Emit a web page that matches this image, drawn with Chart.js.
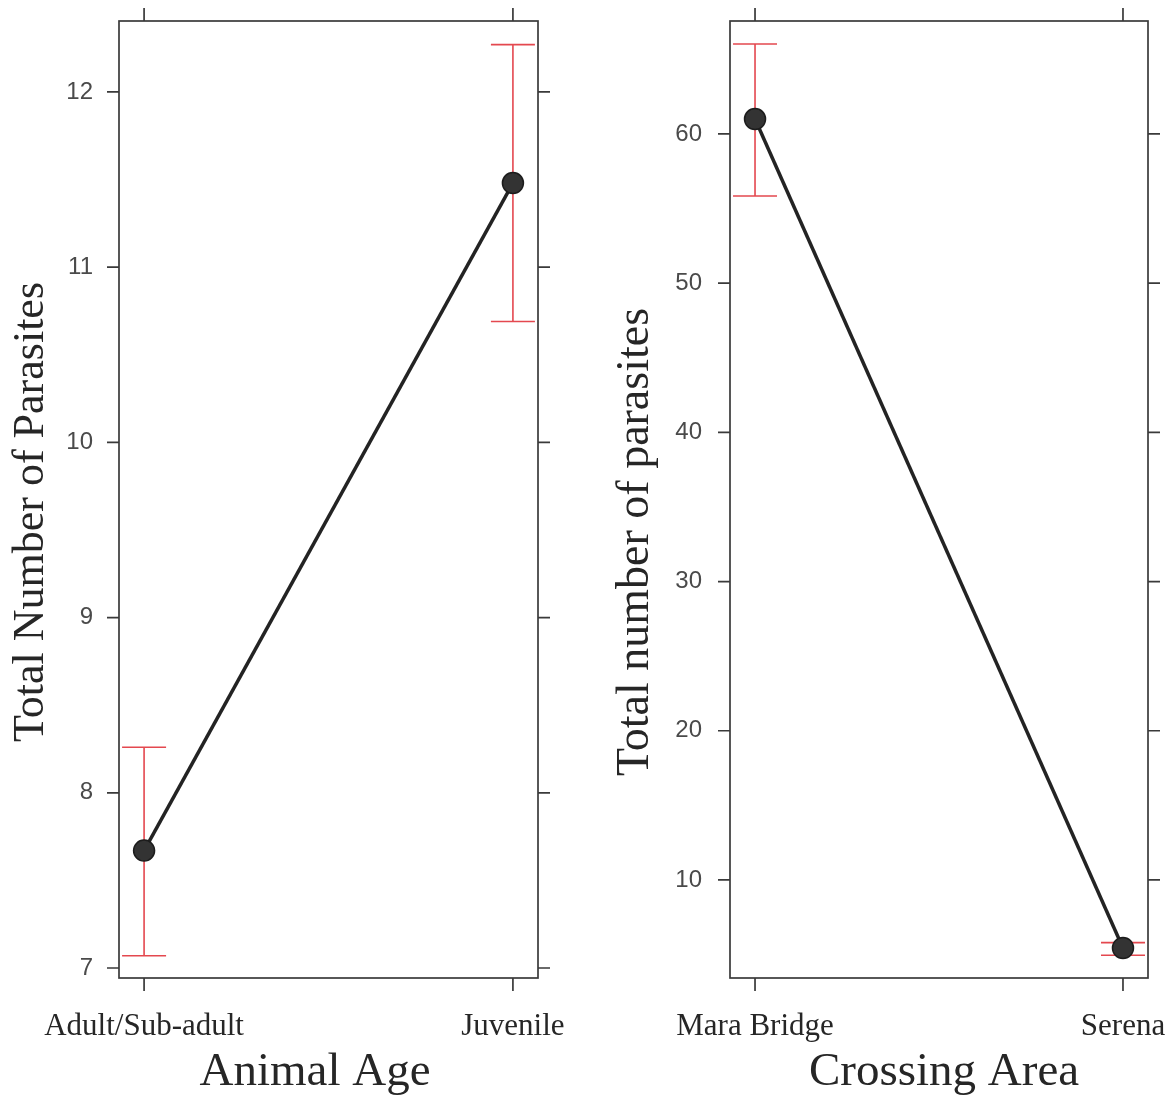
<!DOCTYPE html>
<html>
<head>
<meta charset="utf-8">
<title>Total number of parasites</title>
<script src="https://cdn.jsdelivr.net/npm/chart.js@4.4.1/dist/chart.umd.min.js"></script>
<style>
  body { margin: 0; background: #fff; }
  #left { position: absolute; left: 0; top: 0; }
  #right { position: absolute; left: 600px; top: 0; }
</style>
</head>
<body>
<canvas id="left" width="600" height="1095"></canvas>
<canvas id="right" width="572" height="1095"></canvas>
<script>
// Panel 1: animal age
const ageLabels = ["Adult/Sub-adult", "Juvenile"];
const ageMeans = [7.67, 11.48];
const ageLower = [7.07, 10.69];
const ageUpper = [8.26, 12.27];
const ageTicks = [7, 8, 9, 10, 11, 12];

// Panel 2: crossing area
const areaLabels = ["Mara Bridge", "Serena"];
const areaMeans = [61.0, 5.44];
const areaLower = [55.84, 4.95];
const areaUpper = [66.03, 5.8];
const areaTicks = [10, 20, 30, 40, 50, 60];

// error bars, box with outward ticks and axis titles
const framePlugin = {
    id: "frame",
    beforeDatasetsDraw(chart, args, opts) {
        const ctx = chart.ctx;
        const x = chart.scales.x, y = chart.scales.y;
        ctx.save();
        ctx.strokeStyle = "#e4484f";
        ctx.lineWidth = 1.6;
        opts.lower.forEach((lo, i) => {
            const px = x.getPixelForValue(i + 1);
            const yLo = y.getPixelForValue(lo);
            const yHi = y.getPixelForValue(opts.upper[i]);
            ctx.beginPath();
            ctx.moveTo(px, yLo); ctx.lineTo(px, yHi);
            ctx.moveTo(px - 22, yLo); ctx.lineTo(px + 22, yLo);
            ctx.moveTo(px - 22, yHi); ctx.lineTo(px + 22, yHi);
            ctx.stroke();
        });
        ctx.restore();
    },
    afterDraw(chart, args, opts) {
        const ctx = chart.ctx;
        const a = chart.chartArea;
        const x = chart.scales.x, y = chart.scales.y;
        ctx.save();
        ctx.strokeStyle = "#3a3a3a";
        ctx.lineWidth = 1.7;
        ctx.strokeRect(a.left, a.top, a.right - a.left, a.bottom - a.top);
        ctx.beginPath();
        y.ticks.forEach(t => {
            const py = y.getPixelForValue(t.value);
            ctx.moveTo(a.left - 12, py); ctx.lineTo(a.left, py);
            ctx.moveTo(a.right, py); ctx.lineTo(a.right + 12, py);
        });
        x.ticks.forEach(t => {
            const px = x.getPixelForValue(t.value);
            ctx.moveTo(px, a.top - 13); ctx.lineTo(px, a.top);
            ctx.moveTo(px, a.bottom); ctx.lineTo(px, a.bottom + 13);
        });
        ctx.stroke();

        ctx.fillStyle = "#262626";
        ctx.textAlign = "center";
        ctx.textBaseline = "alphabetic";
        ctx.font = "47px 'Liberation Serif'";
        ctx.fillText(opts.xTitle, opts.xTitleX, opts.xTitleY);
        ctx.translate(opts.yTitleX, opts.yTitleY);
        ctx.rotate(-Math.PI / 2);
        ctx.font = opts.yTitleSize + "px 'Liberation Serif'";
        ctx.fillText(opts.yTitle, 0, 0);
        ctx.restore();
    }
};

// quitar el relleno automático para que el área quede donde se pide
function noPadding(s) {
    s.paddingTop = 0; s.paddingBottom = 0;
    s.paddingLeft = 0; s.paddingRight = 0;
}

function makePanel(id, labels, means, lower, upper, yTicks, yMin, yMax, axisWidth, labelPad, padRight, titles) {
    const ctx = document.getElementById(id).getContext("2d");
    return new Chart(ctx, {
        type: "line",
        data: {
            datasets: [{
                data: means.map((v, i) => ({ x: i + 1, y: v })),
                borderColor: "#232323",
                borderWidth: 3.5,
                pointRadius: 10.5,
                pointBackgroundColor: "#333333",
                pointBorderColor: "#1c1c1c",
                pointBorderWidth: 1.5
            }]
        },
        options: {
            responsive: false,
            animation: false,
            layout: { padding: { top: 21, right: padRight, left: 0, bottom: 0 } },
            plugins: {
                legend: { display: false },
                tooltip: { enabled: false },
                frame: Object.assign({ lower: lower, upper: upper }, titles)
            },
            scales: {
                x: {
                    type: "linear",
                    min: 0.932,
                    max: 2.068,
                    grid: { display: false, drawTicks: false },
                    border: { display: false },
                    afterBuildTicks: s => { s.ticks = [1, 2].map(v => ({ value: v })); },
                    afterFit: s => { s.height = 117; noPadding(s); },
                    ticks: {
                        callback: (v, i) => labels[i],
                        font: { family: "Liberation Serif", size: 31 },
                        color: "#262626",
                        padding: 30,
                        maxRotation: 0,
                        autoSkip: false
                    }
                },
                y: {
                    min: yMin,
                    max: yMax,
                    grid: { display: false, drawTicks: false },
                    border: { display: false },
                    afterBuildTicks: s => { s.ticks = yTicks.map(v => ({ value: v })); },
                    afterFit: s => { s.width = axisWidth; noPadding(s); },
                    ticks: {
                        font: { family: "Liberation Sans", size: 24 },
                        color: "#4a4a4a",
                        padding: labelPad
                    }
                }
            }
        },
        plugins: [framePlugin]
    });
}

makePanel("left", ageLabels, ageMeans, ageLower, ageUpper, ageTicks, 6.943, 12.405, 119, 26, 62, {
    xTitle: "Animal Age", xTitleX: 315, xTitleY: 1085,
    yTitle: "Total Number of Parasites", yTitleX: 43, yTitleY: 512, yTitleSize: 44
});
makePanel("right", areaLabels, areaMeans, areaLower, areaUpper, areaTicks, 3.43, 67.57, 130, 28, 24, {
    xTitle: "Crossing Area", xTitleX: 344, xTitleY: 1085,
    yTitle: "Total number of parasites", yTitleX: 48, yTitleY: 542, yTitleSize: 46
});
</script>
</body>
</html>
